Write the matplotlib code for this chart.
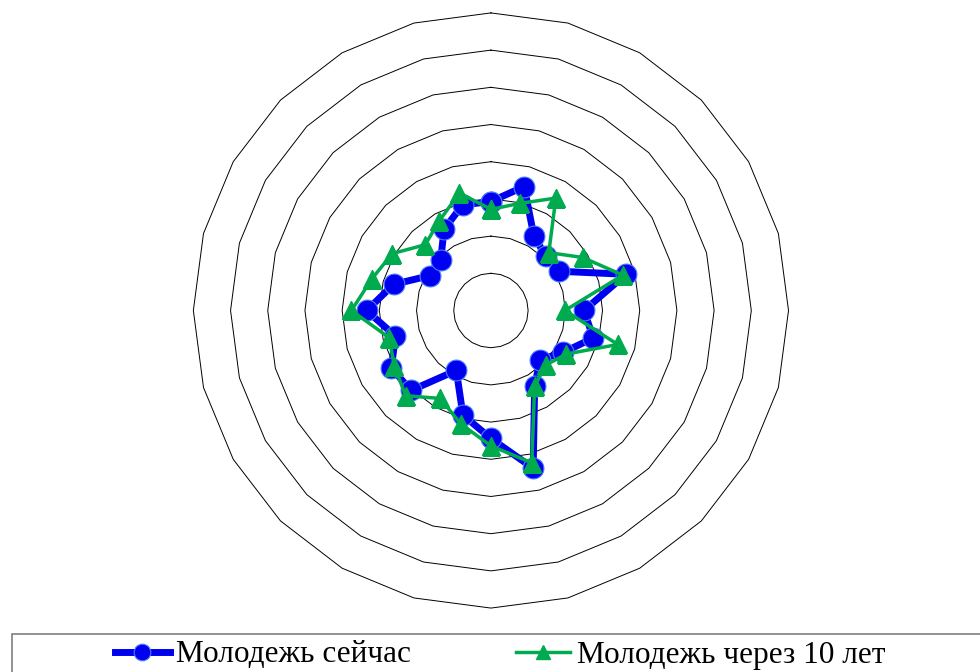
import numpy as np
import matplotlib.pyplot as plt
from matplotlib.patches import Rectangle

plt.rcParams['font.family'] = ['Liberation Serif', 'DejaVu Serif']

# 24 categories, first one at the top, going clockwise
N_CAT = 24
now_vals = [2.93, 3.45, 2.31, 2.08, 2.11, 3.76, 2.50, 2.85, 2.25, 1.87, 2.35, 4.39,
            3.44, 2.91, 1.86, 3.04, 3.09, 2.66, 3.34, 2.71, 1.88, 1.91, 2.52, 2.94]
later_vals = [2.72, 2.98, 3.49, 2.20, 2.85, 3.67, 1.99, 3.53, 2.34, 2.08, 2.35, 4.24,
              3.64, 3.15, 2.73, 3.24, 3.00, 2.83, 3.75, 3.31, 3.06, 2.50, 2.78, 3.27]
ring_levels = [1, 2, 3, 4, 5, 6, 7, 8]
series_names = ['Молодежь сейчас', 'Молодежь через 10 лет']

BLUE = '#0000F0'
GREEN = '#00AA4F'

theta = np.arange(N_CAT) * 2 * np.pi / N_CAT
theta_c = np.append(theta, theta[0])

fig = plt.figure(figsize=(9.8, 6.72), dpi=100)
ax = fig.add_axes([0.1973, 0.0951, 0.6073, 0.8857], projection='polar')
ax.set_theta_zero_location('N')
ax.set_theta_direction(-1)
ax.set_ylim(0, ring_levels[-1])
ax.grid(False)
ax.spines['polar'].set_visible(False)
ax.set_xticks([])
ax.set_yticks([])

# polygonal grid rings
for lv in ring_levels:
    ax.plot(theta_c, [lv] * (N_CAT + 1), color='black', lw=0.7, clip_on=False, zorder=1)

ax.plot(theta_c, now_vals + now_vals[:1], color=BLUE, lw=5, marker='o', ms=15,
        mfc=BLUE, mec='#4d7dff', mew=0.8, label=series_names[0], zorder=3)
ax.plot(theta_c, later_vals + later_vals[:1], color=GREEN, lw=2.5, marker='^', ms=13,
        mfc=GREEN, mec=GREEN, label=series_names[1], zorder=4)

# legend frame (runs off the right and bottom edges like the original)
fig.add_artist(Rectangle((12 / 980, -0.05), 1.0, 0.05 + 38 / 672, transform=fig.transFigure,
                         fill=False, edgecolor='#7f7f7f', lw=1.2))
h, l = ax.get_legend_handles_labels()
fig.legend(h, l, loc='center', bbox_to_anchor=(500 / 980, 17 / 672), ncol=2, frameon=False,
           fontsize=22.5, handlelength=1.75, handletextpad=0.2, columnspacing=3.35,
           borderpad=0, borderaxespad=0, markerscale=0.8)

fig.savefig('out.png', dpi=100)
